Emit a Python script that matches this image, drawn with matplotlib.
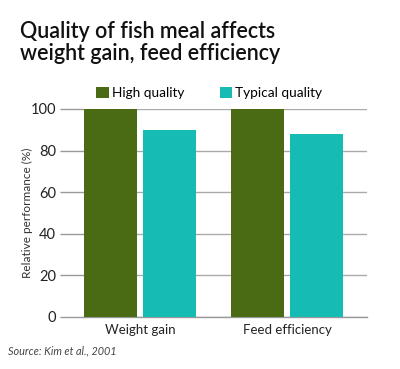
import matplotlib.pyplot as plt
import numpy as np

plt.rcParams["font.family"] = ["Lato", "DejaVu Sans"]

# data
categories = ["Weight gain", "Feed efficiency"]
series_names = ["High quality", "Typical quality"]
high_quality = [100, 100]
typical_quality = [90, 88]
y_ticks = [0, 20, 40, 60, 80, 100]

colors = ["#4a6b14", "#16bcb4"]

fig = plt.figure(figsize=(4.0, 3.69), dpi=100)
W, H = 400, 369
# axes area in pixels: x 83..367, y 109..317
ax = fig.add_axes([83 / W, 1 - 317 / H, (367 - 83) / W, (317 - 109) / H])

x = np.arange(len(categories))
width = 0.36
offset = 0.2
ax.bar(x - offset, high_quality, width, color=colors[0], label=series_names[0], zorder=3)
ax.bar(x + offset, typical_quality, width, color=colors[1], label=series_names[1], zorder=3)

ax.set_xlim(-0.388, 1.544)
ax.set_ylim(0, 100)
ax.set_yticks(y_ticks)
ax.set_xticks(x)
ax.set_xticklabels(categories, fontsize=9.5, color="#222222")
ax.tick_params(axis="x", length=0, pad=5)
ax.tick_params(axis="y", length=16.5, width=1.0, color="#999999", pad=3,
               labelsize=10.5, labelcolor="#222222")

ax.yaxis.grid(True, color="#aaaaaa", linewidth=1.0, zorder=0)
for s in ["top", "right", "left"]:
    ax.spines[s].set_visible(False)
ax.spines["bottom"].set_color("#999999")
ax.spines["bottom"].set_linewidth(1.0)

ax.set_ylabel("Relative performance (%)", fontsize=8.5, color="#333333")
ax.yaxis.set_label_coords((33 - 83) / (367 - 83), 0.5)

ax.legend(loc="lower center", bbox_to_anchor=(0.445, 1.0), ncol=2, frameon=False,
          fontsize=9.8, handlelength=0.9, handleheight=0.9, handletextpad=0.25,
          columnspacing=2.6, borderaxespad=0.3)

fig.text(20 / W, 1 - 21 / H, "Quality of fish meal affects\nweight gain, feed efficiency",
         fontsize=15.5, fontweight="semibold", color="#111111", va="top", ha="left",
         linespacing=1.05)
fig.text(8 / W, 1 - 351 / H, "Source: Kim et al., 2001", fontsize=7.8, style="italic",
         color="#444444", va="center", ha="left")

plt.savefig("out.png", dpi=100)
